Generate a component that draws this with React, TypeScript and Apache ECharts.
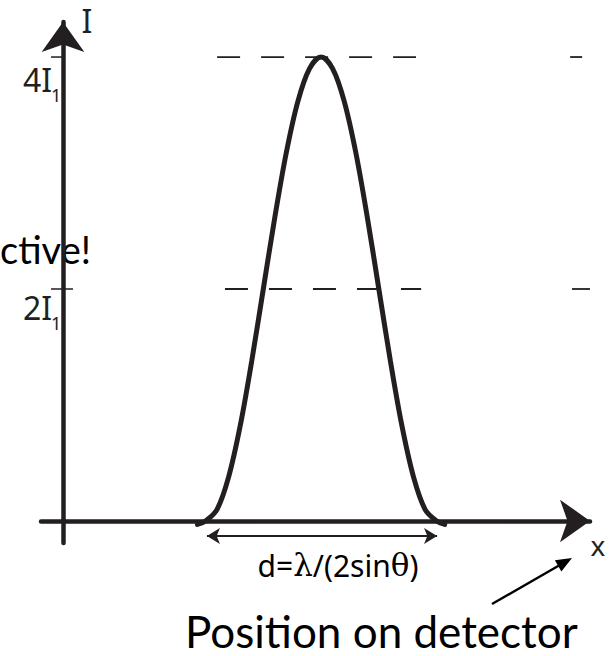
import React, { useEffect, useRef } from "react";
import * as echarts from "echarts";

// Intensity profile across the detector, in units of I1.
const peakCentre = 11.17;
const profileOffsets = [-5.35, -5, -4.5, -4, -3.5, -3, -2.5, -2, -1.5, -1, -0.5, 0, 0.5, 1, 1.5, 2, 2.5, 3, 3.5, 4, 4.5, 5, 5.35];
const profileValues = [-0.03, 0, 0.1, 0.38, 0.82, 1.38, 2.0, 2.62, 3.18, 3.62, 3.9, 4.0, 3.9, 3.62, 3.18, 2.62, 2.0, 1.38, 0.82, 0.38, 0.1, 0, -0.03];

// Reference intensity levels and the extents of their dashed guides.
const levelValues = [4, 2];
const levelNames = ["4I", "2I"];
const levelRuns = [
  [[6.67, 15.28], [21.95, 22.47]],
  [[7.01, 15.5], [22.03, 22.81]],
];

// Width of the constructive fringe (d = λ / (2 sin θ)).
const fringeSpan = [6.23, 16.19];

const INK = "#231f20";
const MATH_FONT = "'Noto Sans', 'Open Sans', sans-serif";
const SERIF_FONT = "'DejaVu Serif', 'Liberation Serif', serif";
const SLIDE_FONT = "Lato, 'Noto Sans', sans-serif";

export default function App() {
  const ref = useRef<HTMLDivElement>(null);

  useEffect(() => {
    const chart = echarts.init(ref.current!, null, { renderer: "svg" });

    const profile = profileOffsets.map((o, i) => [peakCentre + o, profileValues[i]]);

    const guideSeries: any[] = [];
    levelValues.forEach((lv, li) => {
      levelRuns[li].forEach((run, ri) => {
        guideSeries.push({
          type: "line",
          silent: true,
          clip: false,
          symbol: "none",
          z: 1,
          data: [[run[0], lv], [run[1], lv]],
          lineStyle: { color: INK, width: 1.8, type: ri === 0 ? [23, 21] : "solid" },
        });
      });
    });

    const axisLine = (w: number) => ({
      show: true,
      onZero: true,
      symbol: ["none", "arrow"],
      symbolSize: [32, 30],
      lineStyle: { color: INK, width: w },
    });

    chart.setOption({
      animation: false,
      backgroundColor: "#ffffff",
      grid: { left: 41, right: 23, top: 22, bottom: 113, containLabel: false },
      xAxis: {
        type: "value",
        min: -0.952,
        max: 22.81,
        axisLine: axisLine(4.5),
        axisTick: { show: false },
        axisLabel: { show: false },
        splitLine: { show: false },
      },
      yAxis: {
        type: "value",
        min: -0.19,
        max: 4.302,
        axisLine: axisLine(4.5),
        axisTick: { show: false },
        axisLabel: { show: false },
        splitLine: { show: false },
      },
      series: [
        ...guideSeries,
        {
          type: "line",
          silent: true,
          clip: false,
          symbol: "none",
          smooth: 0.35,
          z: 3,
          data: profile,
          lineStyle: { color: INK, width: 5, cap: "round" },
          markLine: {
            silent: true,
            symbol: ["arrow", "arrow"],
            symbolSize: [12, 13],
            label: { show: false },
            lineStyle: { color: INK, width: 2, type: "solid" },
            data: [[{ coord: [fringeSpan[0], -0.13] }, { coord: [fringeSpan[1], -0.13] }]],
          },
        },
      ],
    });

    const toPx = (x: number, y: number) => chart.convertToPixel({ gridIndex: 0 }, [x, y]) as number[];
    const origin = toPx(0, 0);
    const graphics: any[] = [];

    levelValues.forEach((lv, i) => {
      const p = toPx(0, lv);
      graphics.push({
        type: "line",
        silent: true,
        shape: { x1: origin[0] - 12, y1: p[1], x2: origin[0] + (i === 0 ? 0 : 10), y2: p[1] },
        style: { stroke: INK, lineWidth: 1.5 },
      });
      const top = p[1] + (i === 0 ? 22 : 18.5);
      graphics.push({
        type: "text",
        silent: true,
        style: {
          text: levelNames[i],
          x: 23,
          y: top,
          fill: INK,
          font: `32px ${MATH_FONT}`,
          align: "left",
          verticalAlign: "middle",
        },
      });
      graphics.push({
        type: "text",
        silent: true,
        style: {
          text: "1",
          x: 51,
          y: top + 16,
          fill: INK,
          font: `18px ${MATH_FONT}`,
          align: "left",
          verticalAlign: "middle",
        },
      });
    });

    // Axis names
    graphics.push({
      type: "text",
      silent: true,
      style: { text: "I", x: 87, y: 20, fill: INK, font: `32px ${MATH_FONT}`, align: "center", verticalAlign: "middle" },
    });
    graphics.push({
      type: "text",
      silent: true,
      style: { text: "x", x: 598, y: 545, fill: INK, font: `28px ${MATH_FONT}`, align: "center", verticalAlign: "middle" },
    });

    // Fringe width formula
    const mid = toPx((fringeSpan[0] + fringeSpan[1]) / 2, 0);
    graphics.push({
      type: "text",
      silent: true,
      style: {
        text: "{a|d=}{g|λ}{a|/(2sin}{g|θ}{a|)}",
        x: mid[0] + 16,
        y: 565,
        align: "center",
        verticalAlign: "middle",
        rich: {
          a: { fontSize: 30, fontFamily: MATH_FONT, color: INK },
          g: { fontSize: 31, fontFamily: SERIF_FONT, color: INK },
        },
      },
    });

    // Slide captions
    graphics.push({
      type: "text",
      silent: true,
      z: -1,
      style: { text: "ctive!", x: 0, y: 249, fill: "#000", font: `38px ${SLIDE_FONT}`, align: "left", verticalAlign: "middle" },
    });
    graphics.push({
      type: "text",
      silent: true,
      style: { text: "Position on detector", x: 185, y: 631, fill: "#000", font: `44px ${SLIDE_FONT}`, align: "left", verticalAlign: "middle" },
    });

    // Pointer from caption to the x axis
    const tip = [572, 558];
    const tail = [492, 604];
    const dx = tip[0] - tail[0];
    const dy = tip[1] - tail[1];
    const len = Math.hypot(dx, dy);
    const ux = dx / len;
    const uy = dy / len;
    const headLen = 16;
    const headHalf = 6.5;
    const bx = tip[0] - ux * headLen;
    const by = tip[1] - uy * headLen;
    graphics.push({
      type: "line",
      silent: true,
      shape: { x1: tail[0], y1: tail[1], x2: bx + ux * 2, y2: by + uy * 2 },
      style: { stroke: "#000", lineWidth: 2.4 },
    });
    graphics.push({
      type: "polygon",
      silent: true,
      shape: {
        points: [
          [tip[0], tip[1]],
          [bx - uy * headHalf, by + ux * headHalf],
          [bx + uy * headHalf, by - ux * headHalf],
        ],
      },
      style: { fill: "#000" },
    });

    chart.setOption({ graphic: graphics });

    return () => chart.dispose();
  }, []);

  return (
    <div
      ref={ref}
      style={{ position: "fixed", left: 0, top: 0, width: 613, height: 656, background: "#fff" }}
    />
  );
}
